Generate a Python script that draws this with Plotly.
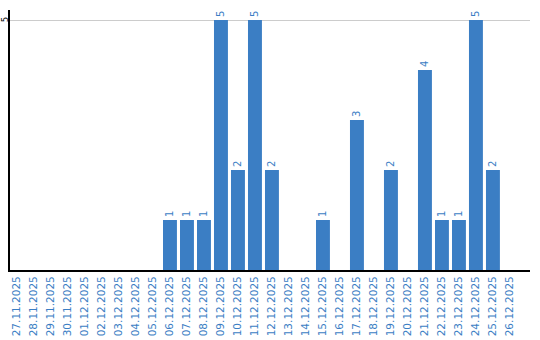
import plotly.graph_objects as go

dates = ["27.11.2025", "28.11.2025", "29.11.2025", "30.11.2025", "01.12.2025",
         "02.12.2025", "03.12.2025", "04.12.2025", "05.12.2025", "06.12.2025",
         "07.12.2025", "08.12.2025", "09.12.2025", "10.12.2025", "11.12.2025",
         "12.12.2025", "13.12.2025", "14.12.2025", "15.12.2025", "16.12.2025",
         "17.12.2025", "18.12.2025", "19.12.2025", "20.12.2025", "21.12.2025",
         "22.12.2025", "23.12.2025", "24.12.2025", "25.12.2025", "26.12.2025"]
counts = [0, 0, 0, 0, 0, 0, 0, 0, 0, 1,
          1, 1, 5, 2, 5, 2, 0, 0, 1, 0,
          3, 0, 2, 0, 4, 1, 1, 5, 2, 0]
y_ticks = [5]

blue = "#3b7ec4"
labels = [str(v) if v > 0 else "" for v in counts]

fig = go.Figure(go.Bar(
    x=list(range(len(dates))), y=counts,
    marker=dict(color=blue, line=dict(width=0)),
    width=0.82,
    text=labels, textposition="outside", textangle=-90,
    textfont=dict(color=blue, size=10, family="DejaVu Sans"),
    cliponaxis=False,
))

for t in y_ticks:
    fig.add_annotation(
        x=0, xref="paper", y=t, yref="y", text=str(t), showarrow=False,
        textangle=-90, xanchor="center", yanchor="middle", xshift=-5,
        font=dict(size=8, color="black", family="DejaVu Sans"),
        borderpad=0,
    )

fig.update_layout(
    width=540, height=340,
    margin=dict(l=10, r=10, t=10, b=70),
    paper_bgcolor="white", plot_bgcolor="white",
    showlegend=False,
    font=dict(family="DejaVu Sans", size=10, color="black"),
    xaxis=dict(
        tickmode="array", tickvals=list(range(len(dates))), ticktext=dates,
        tickangle=-90, tickfont=dict(color=blue, size=10.5, family="DejaVu Sans"),
        range=[-0.41, 30.18], showline=True, linecolor="black", linewidth=2,
        showgrid=False, ticks="", zeroline=False, automargin=False,
    ),
    yaxis=dict(
        range=[0, 5.2], tickvals=y_ticks, showticklabels=False,
        showline=True, linecolor="black", linewidth=2,
        showgrid=True, gridcolor="#cccccc", gridwidth=1,
        ticks="", zeroline=False, automargin=False,
    ),
)

fig.write_html("out.html")
